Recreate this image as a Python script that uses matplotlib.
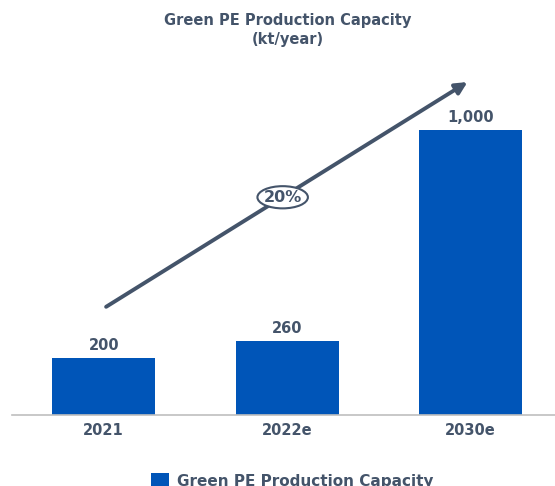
import matplotlib.pyplot as plt
from matplotlib.patches import Ellipse

# ------------------------------------------------------------
# Data
# ------------------------------------------------------------
years = ["2021", "2022e", "2030e"]
capacity = [200, 260, 1000]  # kt/year
cagr_label = "20%"

BAR_COLOR = "#0055B8"
TEXT_COLOR = "#44546A"
AXIS_COLOR = "#BFBFBF"

fig = plt.figure(figsize=(5.55, 4.86), dpi=100)
# axes extends past the right edge so the baseline runs off the figure
ax = fig.add_axes([12 / 555, 71 / 486, 550.5 / 555, 370 / 486])

x = list(range(len(years)))
bars = ax.bar(x, capacity, width=0.56, color=BAR_COLOR,
              label="Green PE Production Capacity", zorder=2)

# value labels above each bar
for xi, val in zip(x, capacity):
    ax.text(xi, val + 18, f"{val:,}", ha="center", va="bottom",
            fontsize=10.5, fontweight="bold", color=TEXT_COLOR)

ax.set_xlim(-0.5, 2.5)
ax.set_ylim(0, 1300)
ax.set_xticks(x)
ax.set_xticklabels(years, fontsize=10.5, fontweight="bold", color=TEXT_COLOR)
ax.tick_params(axis="x", length=0, pad=6)
ax.set_yticks([])
for side in ["left", "right", "top"]:
    ax.spines[side].set_visible(False)
ax.spines["bottom"].set_color(AXIS_COLOR)
ax.spines["bottom"].set_linewidth(1.2)

# growth arrow with CAGR badge
ax.annotate("", xy=(1.995, 1175), xytext=(0, 375),
            arrowprops=dict(arrowstyle="-|>,head_length=0.7,head_width=0.35",
                            color=TEXT_COLOR, lw=2.8), zorder=3)
ax.add_patch(Ellipse((0.975, 765), width=0.275, height=78, facecolor="white",
                     edgecolor=TEXT_COLOR, lw=1.5, zorder=4))
ax.text(0.975, 765, cagr_label, ha="center", va="center", fontsize=11.5,
        fontweight="bold", color=TEXT_COLOR, zorder=5)

fig.text(288 / 555, 1 - 30 / 486, "Green PE Production Capacity\n(kt/year)",
         ha="center", va="center", fontsize=10.5, fontweight="bold",
         color=TEXT_COLOR, linespacing=1.3)

leg = fig.legend(loc="center", bbox_to_anchor=(292 / 555, 1 - 481 / 486),
                 frameon=False, fontsize=11, handlelength=1.2,
                 handleheight=1.2, handletextpad=0.5)
for t in leg.get_texts():
    t.set_color(TEXT_COLOR)
    t.set_fontweight("bold")

fig.savefig("out.png", dpi=100)
